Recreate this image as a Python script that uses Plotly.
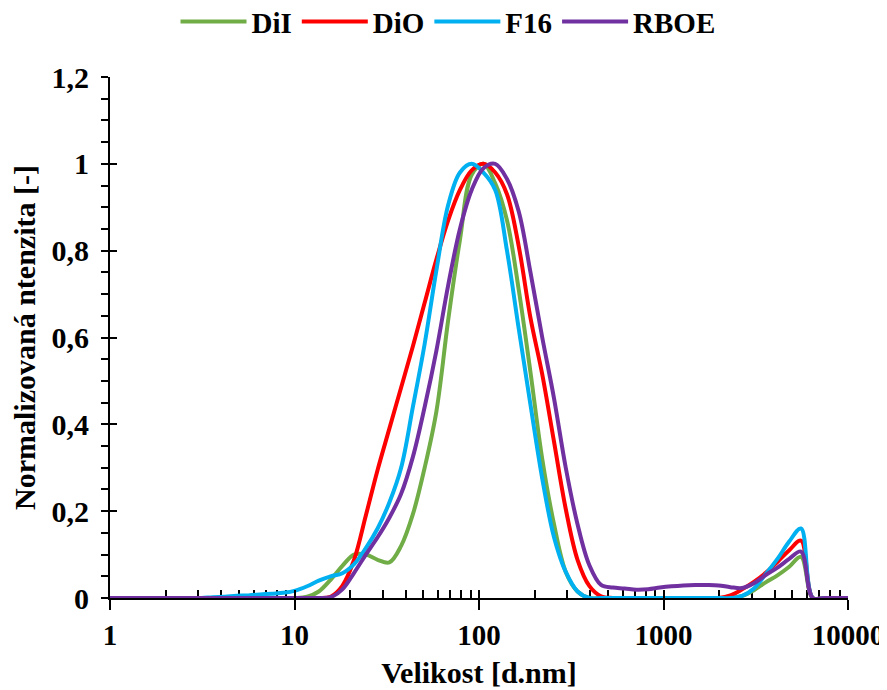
import plotly.graph_objects as go

# ---------------- data ----------------
# size classes [d.nm]
size_nm = [0.9649, 1.117, 1.294, 1.499, 1.736, 2.01, 2.328, 2.696, 3.122, 3.615, 4.187, 4.849,
           5.615, 6.503, 7.531, 8.721, 10.1, 11.7, 13.54, 15.69, 18.17, 21.04, 24.36, 28.21,
           32.67, 37.84, 43.82, 50.75, 58.77, 68.06, 78.82, 91.28, 105.7, 122.4, 141.8, 164.2,
           190.1, 220.2, 255.0, 295.3, 342.0, 396.1, 458.7, 531.2, 615.1, 712.4, 825.0, 955.4,
           1106, 1281, 1484, 1718, 1990, 2305, 2669, 3091, 3580, 4145, 4801, 5560, 6439, 7456,
           8635, 10000]

dil_int = [0, 0, 0, 0, 0, 0, 0, 0, 0, 0, 0, 0, 0, 0, 0, 0,
           0, 0.003, 0.015, 0.042, 0.074, 0.1, 0.1, 0.088, 0.082, 0.12, 0.193, 0.3, 0.43, 0.64,
           0.825, 0.975, 1.0, 0.955, 0.87, 0.71, 0.52, 0.32, 0.17, 0.06, 0.015, 0,
           0, 0, 0, 0, 0, 0, 0, 0, 0, 0, 0, 0,
           0.005, 0.018, 0.036, 0.052, 0.072, 0.095, 0, 0, 0, 0]

dio_int = [0, 0, 0, 0, 0, 0, 0, 0, 0, 0, 0, 0, 0, 0, 0, 0,
           0, 0, 0, 0.003, 0.028, 0.088, 0.19, 0.295, 0.39, 0.485, 0.58, 0.68, 0.78, 0.87,
           0.94, 0.985, 1.0, 0.98, 0.93, 0.81, 0.645, 0.515, 0.36, 0.205, 0.088, 0.028,
           0.004, 0, 0, 0, 0, 0, 0, 0, 0, 0, 0, 0.006,
           0.02, 0.037, 0.058, 0.083, 0.11, 0.132, 0, 0, 0, 0]

f16_int = [0, 0, 0, 0, 0, 0, 0, 0, 0, 0.002, 0.003, 0.005, 0.006, 0.008, 0.01, 0.012,
           0.017, 0.027, 0.04, 0.05, 0.057, 0.078, 0.115, 0.16, 0.22, 0.30, 0.44, 0.585, 0.755,
           0.905, 0.98, 1.0, 0.98, 0.94, 0.8, 0.62, 0.445, 0.275, 0.14, 0.06, 0.015, 0,
           0, 0, 0, 0, 0, 0, 0, 0, 0, 0, 0, 0,
           0.005, 0.022, 0.055, 0.09, 0.13, 0.16, 0, 0, 0, 0]

rboe_int = [0, 0, 0, 0, 0, 0, 0, 0, 0, 0, 0, 0, 0, 0, 0, 0,
            0, 0, 0, 0.002, 0.02, 0.058, 0.1, 0.14, 0.185, 0.24, 0.325, 0.44, 0.57, 0.72,
            0.85, 0.94, 0.99, 1.0, 0.965, 0.89, 0.75, 0.6, 0.46, 0.30, 0.17, 0.076,
            0.03, 0.024, 0.022, 0.019, 0.02, 0.024, 0.027, 0.029, 0.03, 0.03, 0.029, 0.025,
            0.023, 0.034, 0.053, 0.07, 0.09, 0.107, 0, 0, 0, 0]

series_names = ["DiI", "DiO", "F16", "RBOE"]
series_colors = ["#70AD47", "#FF0000", "#00B0F0", "#7030A0"]
series_values = [dil_int, dio_int, f16_int, rboe_int]

x_tick_vals = [1, 10, 100, 1000, 10000]
x_tick_text = ["1", "10", "100", "1000", "10000"]
y_tick_vals = [0, 0.2, 0.4, 0.6, 0.8, 1.0, 1.2]
y_tick_text = ["0", "0,2", "0,4", "0,6", "0,8", "1", "1,2"]
x_minor_vals = [m * 10 ** k for k in range(4) for m in range(2, 10)]

x_title = "Velikost [d.nm]"
y_title = "Normalizovaná ntenzita [-]"

for v in series_values:
    assert len(v) == len(size_nm)

# ---------------- figure ----------------
# the page body adds an 8 px margin, so the figure is 8 px smaller and margins shifted
FONT = "Liberation Serif"
fig = go.Figure()
for name, color, ys in zip(series_names, series_colors, series_values):
    fig.add_trace(go.Scatter(x=size_nm, y=ys, mode="lines", name=name,
                             line=dict(color=color, width=4, shape="spline", smoothing=1.0),
                             hoverinfo="x+y+name"))

# invisible helper trace so the overlay axes (inner half of crossing ticks) render
fig.add_trace(go.Scatter(x=size_nm, y=dil_int, xaxis="x2", yaxis="y2", mode="lines",
                         line=dict(width=0), opacity=0, showlegend=False, hoverinfo="skip"))

tickfont = dict(family=FONT, size=30, color="black", weight="bold")
xtickfont = dict(family=FONT, size=29, color="black", weight="bold")
fig.update_layout(
    width=879, height=682,
    margin=dict(l=102, r=39, t=69, b=92, autoexpand=False),
    plot_bgcolor="white", paper_bgcolor="white",
    font=dict(family=FONT, size=30, color="black", weight="bold"),
    legend=dict(orientation="h", x=0.458, xanchor="center", y=1.106, yanchor="middle",
                font=dict(family=FONT, size=29, color="black", weight="bold"),
                bgcolor="rgba(0,0,0,0)", itemwidth=66, tracegroupgap=0),
    xaxis=dict(type="log", range=[0, 4], tickmode="array", tickvals=x_tick_vals,
               ticktext=x_tick_text, ticks="outside", ticklen=10, tickwidth=2, tickcolor="black",
               showline=True, linewidth=2, linecolor="black", showgrid=False, zeroline=False,
               tickfont=xtickfont, layer="below traces", automargin=False,
               minor=dict(tickmode="array", tickvals=x_minor_vals, ticks="inside", ticklen=8,
                          tickwidth=1.5, tickcolor="black", showgrid=False),
               title=dict(text=x_title, font=tickfont, standoff=12)),
    yaxis=dict(range=[0, 1.2], tickmode="array", tickvals=y_tick_vals, ticktext=y_tick_text,
               ticks="outside", ticklen=7, tickwidth=2, tickcolor="black",
               showline=True, linewidth=2, linecolor="black", showgrid=False, zeroline=False,
               tickfont=tickfont, layer="below traces", automargin=False,
               ticklabelstandoff=6,
               minor=dict(dtick=0.05, tick0=0, ticks="outside", ticklen=7, tickwidth=1.5,
                          tickcolor="black", showgrid=False),
               title=dict(text=y_title, font=tickfont, standoff=7)),
    xaxis2=dict(type="log", range=[0, 4], overlaying="x", anchor="y2", side="bottom",
                tickmode="array", tickvals=x_tick_vals, ticks="inside", ticklen=8, tickwidth=2,
                tickcolor="black", showticklabels=False, showline=False, showgrid=False,
                zeroline=False, automargin=False),
    yaxis2=dict(range=[0, 1.2], overlaying="y", anchor="x2", side="left",
                tickmode="array", tickvals=y_tick_vals, ticks="inside", ticklen=7, tickwidth=2,
                tickcolor="black", showticklabels=False, showline=False, showgrid=False,
                zeroline=False, automargin=False),
)

fig.write_html("out.html")
